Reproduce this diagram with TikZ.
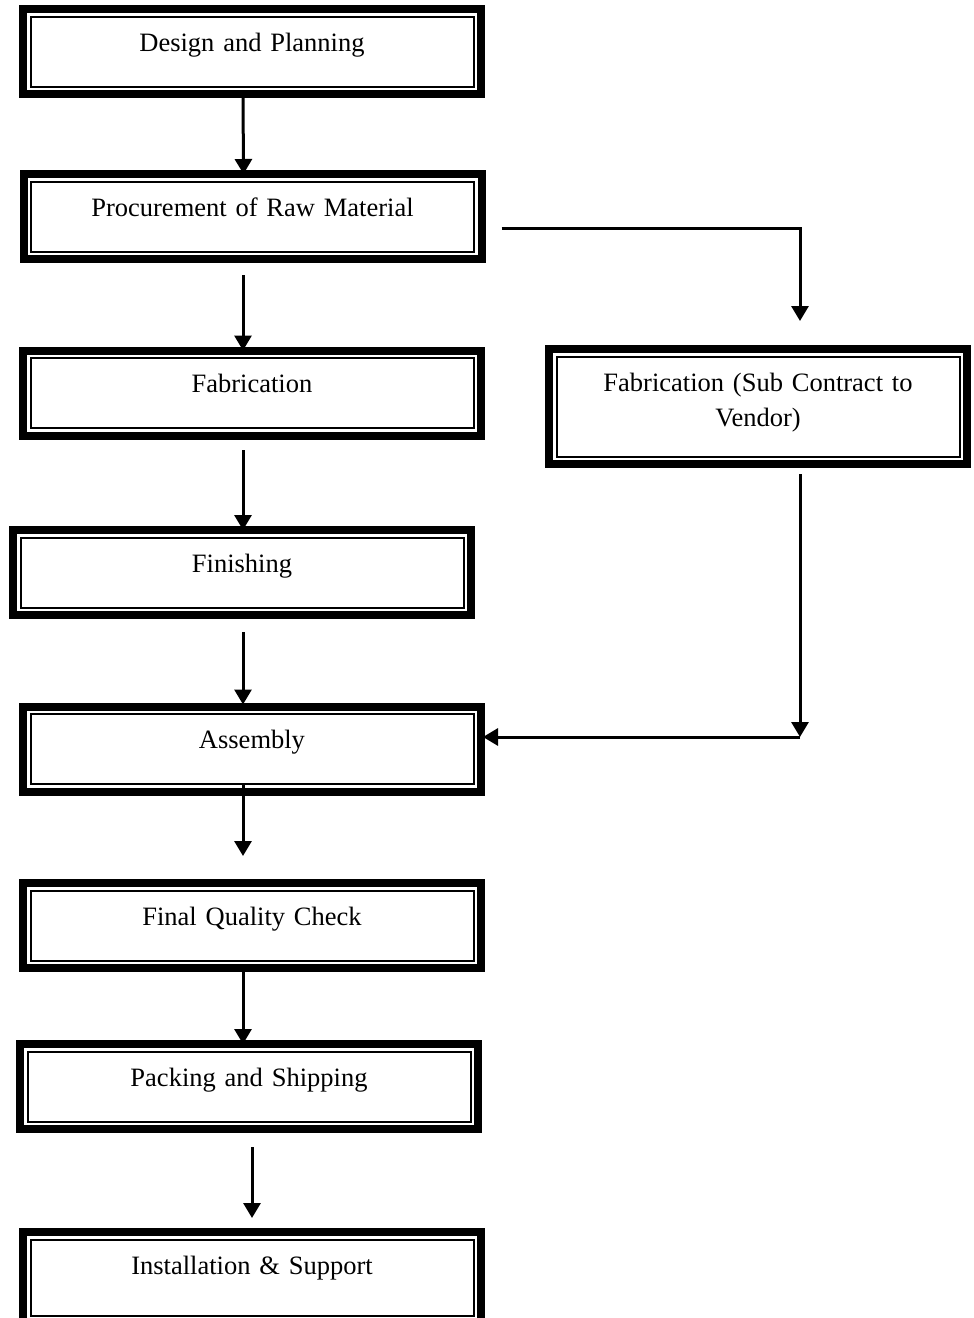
\documentclass[tikz,border=0pt]{standalone}
\usepackage{fontspec}
\setmainfont{Liberation Serif}
\usetikzlibrary{arrows.meta}
\tikzset{
	stage/.style={draw, line width=8pt, inner sep=0pt, minimum width=458pt, minimum height=85pt,
		text width=440pt, align=center, text height=42pt, text depth=43pt,
		font=\fontsize{26.5pt}{35pt}\selectfont,
		path picture={\draw[line width=2pt] ([shift={(7.5pt,-7.5pt)}]path picture bounding box.north west) rectangle ([shift={(-7.5pt,7.5pt)}]path picture bounding box.south east);}},
	arr/.style={line width=3pt, -{Triangle[width=17pt,length=15pt]}}
}

\begin{document}
\begin{tikzpicture}[x=1pt, y=-1pt]
		%%%%% START %%%%%
		\useasboundingbox (0, 0) rectangle (974, 1318);
		
		\node[stage] (design) at (252, 51.5) {Design and Planning};
		\node[stage] (proc) at (252.5, 216.5) {Procurement of Raw Material};
		\node[stage] (fab) at (252, 393) {Fabrication};
		\node[stage] (finish) at (242, 572.5) {Finishing};
		\node[stage] (assembly) at (252, 749) {Assembly};
		\node[stage] (check) at (252, 925.5) {Final Quality Check};
		\node[stage] (pack) at (249, 1086.5) {Packing and Shipping};
		\node[stage, minimum height=91pt, text depth=49pt] (install) at (252, 1277.5) {Installation \& Support};
		
		\node[stage, minimum width=418pt, minimum height=115pt, text width=400pt, text depth=73pt] (vendor) at (758, 406.5) {Fabrication (Sub Contract to\\ Vendor)};
		
		\draw[arr, shorten >=-4pt] ([xshift=-9pt]design.south) -- ([xshift=-9pt]proc.north);
		\draw[arr, shorten <=12pt, shorten >=-4pt] ([xshift=-9.5pt]proc.south) -- ([xshift=-9pt]fab.north);
		\draw[arr, shorten <=10.5pt, shorten >=-4pt] ([xshift=-9pt]fab.south) -- ([xshift=1pt]finish.north);
		\draw[arr, shorten <=13pt, shorten >=-2pt] ([xshift=1pt]finish.south) -- ([xshift=-9pt]assembly.north);
		\draw[arr, shorten <=-11.5pt, shorten >=23pt] ([xshift=-9pt]assembly.south) -- ([xshift=-9pt]check.north);
		\draw[arr, shorten >=-4pt] ([xshift=-9pt]check.south) -- ([xshift=-6pt]pack.north);
		\draw[arr, shorten <=14pt, shorten >=10pt] ([xshift=3pt]pack.south) -- (install.north);
		
		% sub contract branch
		\draw[arr, shorten <=16pt, shorten >=24pt] ([yshift=-11.5pt]proc.east) -| ([xshift=42pt]vendor.north);
		\coordinate (bend) at (800, 737);
		\draw[arr, shorten <=6pt] ([xshift=42pt]vendor.south) -- (bend);
		\draw[arr, shorten >=-2pt] (bend) -- (assembly.east |- bend);
		
		%%%%% END %%%%%
	\end{tikzpicture}
\end{document}
